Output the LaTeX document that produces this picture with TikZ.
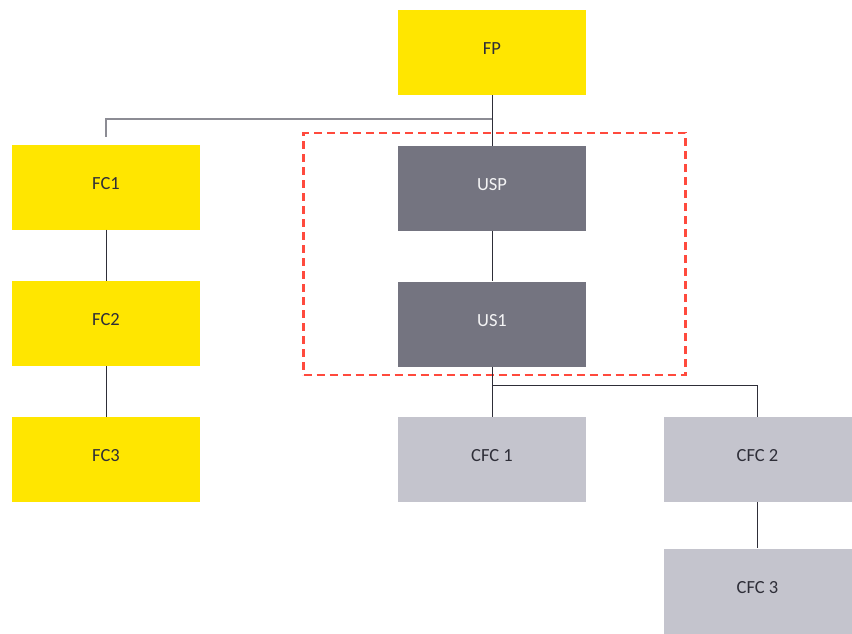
\documentclass[tikz,border=0pt]{standalone}
\usepackage{fontspec}
\setmainfont{Carlito}
\definecolor{eyyellow}{HTML}{FFE600}
\definecolor{darkbox}{HTML}{747480}
\definecolor{lightbox}{HTML}{C4C4CD}
\definecolor{txtdark}{HTML}{2E2E38}
\definecolor{reddash}{HTML}{FF4A3D}
\definecolor{linegray}{HTML}{8C8C94}
\begin{document}
\begin{tikzpicture}[x=1pt,y=-1pt,
  box/.style={minimum width=188pt,minimum height=85pt,inner sep=0pt,text height=12pt,text depth=8pt,font=\fontsize{18.5}{22}\selectfont},
  ybox/.style={box,fill=eyyellow,text=txtdark},
  dbox/.style={box,fill=darkbox,text=white!92!darkbox},
  lbox/.style={box,fill=lightbox,text=txtdark},
  conn/.style={draw=txtdark,line width=1pt},
  gconn/.style={draw=linegray,line width=1.2pt},
  group/.style={draw=reddash,line width=2.5pt,dash pattern=on 8pt off 5pt}]
\useasboundingbox (0,0) rectangle (852,633);
\node[group,minimum width=382pt,minimum height=242pt,inner sep=0pt] (grp) at (494.5,254) {};
\node[ybox] (fp) at (492,52.5) {FP};
\node[ybox] (fc1) at (106,187) {FC1};
\node[ybox] (fc2) at (106,323.5) {FC2};
\node[ybox] (fc3) at (106,459.5) {FC3};
\node[dbox] (usp) at (492,188.5) {USP};
\node[dbox] (us1) at (492,324) {US1};
\node[lbox] (cfc1) at (492,459.5) {CFC 1};
\node[lbox] (cfc2) at (757.5,459.5) {CFC 2};
\node[lbox] (cfc3) at (757.5,591) {CFC 3};
\coordinate (j1) at (492,119);
\coordinate (j1l) at (106,119);
\coordinate (fc1end) at (106,137);
\coordinate (j2) at (492,385);
\coordinate (j2r) at (757.5,385);
\draw[gconn] (j1) -- (j1l) -- (fc1end);
\draw[conn] (fp.south) -- (usp.north);
\draw[conn] (usp.south) -- (us1.north);
\draw[conn] (fc1.south) -- (fc2.north);
\draw[conn] (fc2.south) -- (fc3.north);
\draw[conn] (us1.south) -- (cfc1.north);
\draw[conn] (j2) -- (j2r) -- (cfc2.north);
\draw[conn] (cfc2.south) -- (cfc3.north);
\end{tikzpicture}
\end{document}
